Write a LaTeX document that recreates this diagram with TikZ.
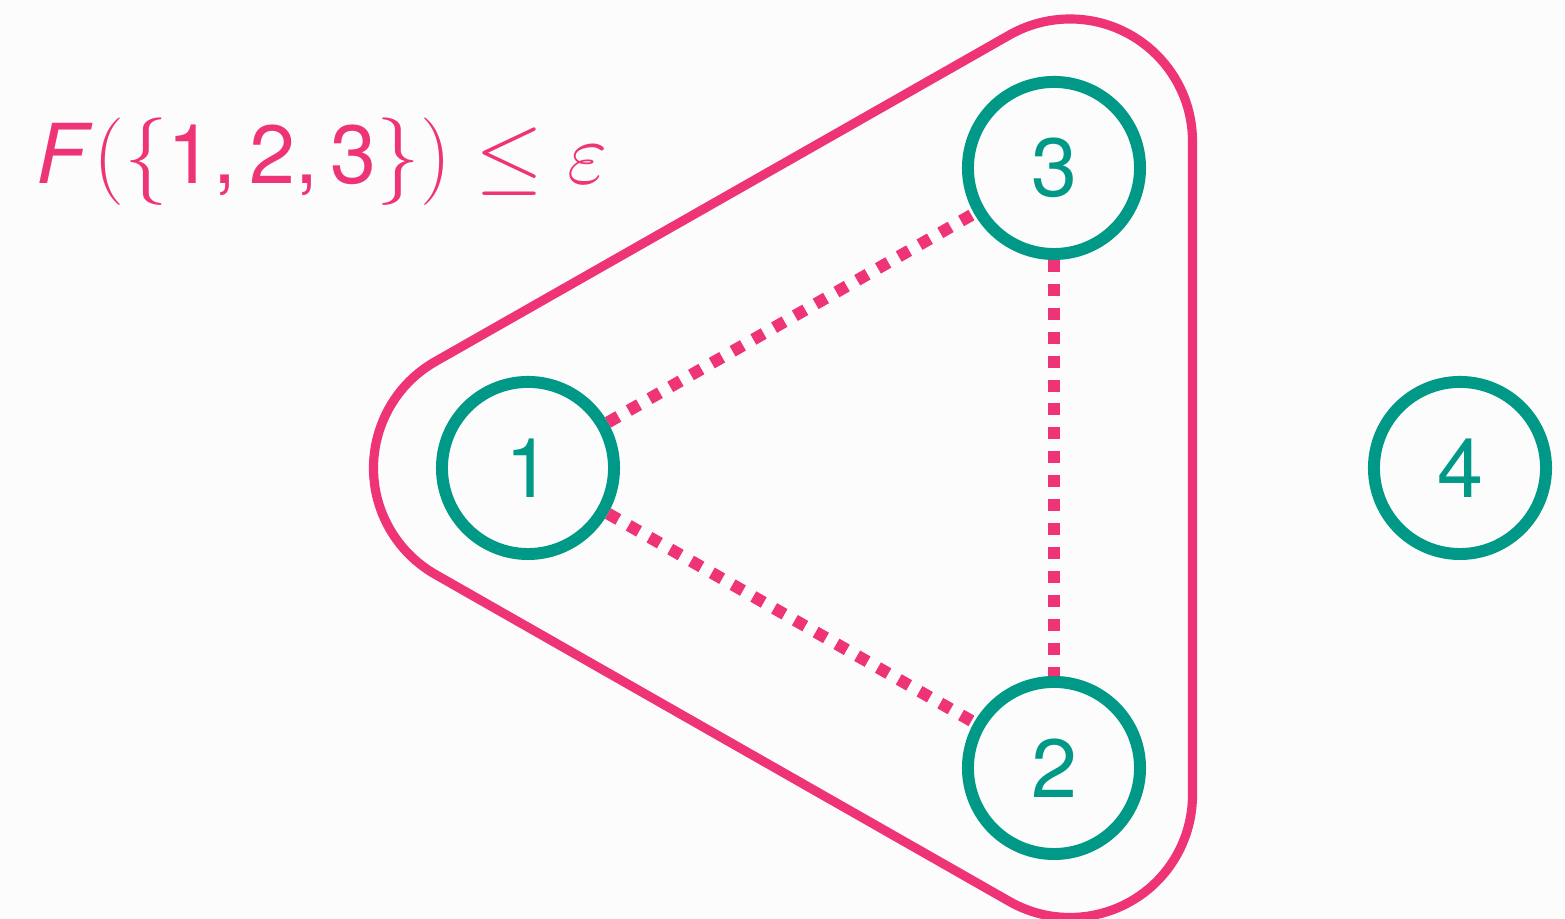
\documentclass[tikz,border=0pt]{standalone}
\usepackage{fontspec}
\usepackage{amsmath}
\newfontfamily\labelfont{TeX Gyre Heros}
\usetikzlibrary{positioning,calc}
\definecolor{hullpink}{RGB}{238,51,119}
\definecolor{nodeteal}{RGB}{0,153,136}
\definecolor{bgwhite}{RGB}{252,252,252}

\begin{document}
\begin{tikzpicture}[x=0.01cm, y=0.01cm,
    vertex/.style={circle, draw=nodeteal, line width=3.4pt, minimum size=1.72cm, inner sep=0pt, text=nodeteal, font=\labelfont\fontsize{23.5}{23.5}\selectfont},
    hull/.style={draw=hullpink, line width=2.6pt},
    link/.style={draw=hullpink, line width=3.4pt, dash pattern=on 3.4pt off 3.4pt}
]

    % Background
    \fill[bgwhite] (0,0) rectangle (1565,919);
    \useasboundingbox (0,0) rectangle (1565,919);

    % Bound
    \node[anchor=base west, inner sep=0pt, text=hullpink, font=\labelfont\fontsize{23.5}{23.5}\selectfont] (bound) at (36,735)
        {\textit{F}$(\{$1,\hspace{0.15em}2,\hspace{0.15em}3$\})\leq\varepsilon$};

    % Vertices
    \node[vertex] (n1) at (528,451) {1};
    \node[vertex] (n3) at (1054,751) {3};
    \node[vertex] (n2) at (1054,151) {2};
    \node[vertex] (n4) at (1460,451) {4};

    % Hull around {1,2,3}
    \coordinate (h1) at (496,451);
    \coordinate (h2) at (1070,124);
    \coordinate (h3) at (1070,777.5);
    \draw[hull] ($(h1)+(120:122.5)$) arc[start angle=120, end angle=240, radius=122.5]
        -- ($(h2)+(240:122.5)$) arc[start angle=240, end angle=360, radius=122.5]
        -- ($(h3)+(0:122.5)$) arc[start angle=0, end angle=120, radius=122.5]
        -- cycle;

    % Links
    \draw[link] (n1) -- (n3);
    \draw[link] (n1) -- (n2);
    \draw[link] (n3) -- (n2);

\end{tikzpicture}
\end{document}
